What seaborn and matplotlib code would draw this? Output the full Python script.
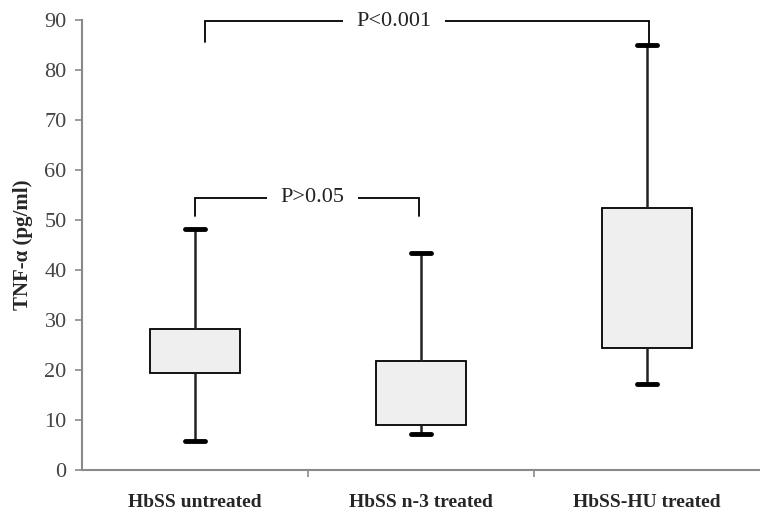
import numpy as np
import pandas as pd
import matplotlib
matplotlib.use("Agg")
import matplotlib.pyplot as plt
import seaborn as sns

# valores (pg/ml)
grupos = ["HbSS untreated", "HbSS n-3 treated", "HbSS-HU treated"]
minimo = [5.8, 7.3, 17.2]
q1 = [19.5, 9.0, 24.4]
q3 = [28.2, 21.8, 52.4]
maximo = [48.2, 43.4, 85.0]

# comparacoes: (x inicio, x fim, altura, queda esq, queda dir, x do texto, texto)
comp_x0 = [0.0, 0.045]
comp_x1 = [0.99, 2.01]
comp_y = [54.4, 89.8]
comp_y_esq = [50.8, 85.6]
comp_y_dir = [50.8, 85.0]
comp_xt = [0.52, 0.88]
comp_txt = ["P>0.05", "P<0.001"]

# cinco valores por grupo -> quartis exatos (mediana nao aparece no grafico)
linhas = []
for g, a, b, c, d in zip(grupos, minimo, q1, q3, maximo):
    for v in [a, b, b, c, d]:
        linhas.append({"grupo": g, "valor": v})
df = pd.DataFrame(linhas)

sns.set_style("white")
plt.rcParams["font.family"] = ["Liberation Serif", "DejaVu Serif"]

fig = plt.figure(figsize=(7.6, 5.15), dpi=100)
ax = fig.add_axes([82 / 760, 45 / 515, 678 / 760, 450 / 515])

sns.boxplot(data=df, x="grupo", y="valor", ax=ax, whis=(0, 100), width=0.40,
            color="#efefef", linecolor="black", linewidth=1.3,
            capwidths=0.09, showfliers=False,
            medianprops={"visible": False},
            whiskerprops={"color": "#222222", "linewidth": 1.8},
            capprops={"color": "black", "linewidth": 3.5})

# barras de significancia
for x0, x1, y, ye, yd, xt, t in zip(comp_x0, comp_x1, comp_y, comp_y_esq,
                                    comp_y_dir, comp_xt, comp_txt):
    ax.plot([x0, x0, x1, x1], [ye, y, y, yd], color="black", lw=1.3,
            solid_joinstyle="miter", zorder=3)
    ax.text(xt, y, t, ha="center", va="center", fontsize=16, color="#222222",
            zorder=4, bbox=dict(facecolor="white", edgecolor="none", pad=10))

ax.set_xlim(-0.5, 2.5)
ax.set_ylim(0, 90)
ax.set_yticks(np.arange(0, 91, 10))
ax.set_xlabel("")
ax.set_ylabel("TNF-α (pg/ml)", fontsize=15, fontweight="bold", labelpad=8)

for lado in ["top", "right"]:
    ax.spines[lado].set_visible(False)
for lado in ["left", "bottom"]:
    ax.spines[lado].set_color("#8a8a8a")
    ax.spines[lado].set_linewidth(1.5)

ax.tick_params(axis="y", which="major", left=True, length=5, width=1.2,
               color="#8a8a8a", labelsize=16, labelcolor="#444444", pad=6)
ax.tick_params(axis="x", which="major", bottom=False, labelsize=14, pad=14)
for lab in ax.get_xticklabels():
    lab.set_fontweight("bold")
ax.set_xticks([0.5, 1.5], minor=True)
ax.tick_params(axis="x", which="minor", bottom=True, length=5, width=1.2,
               color="#8a8a8a")

fig.savefig("out.png", dpi=100)
